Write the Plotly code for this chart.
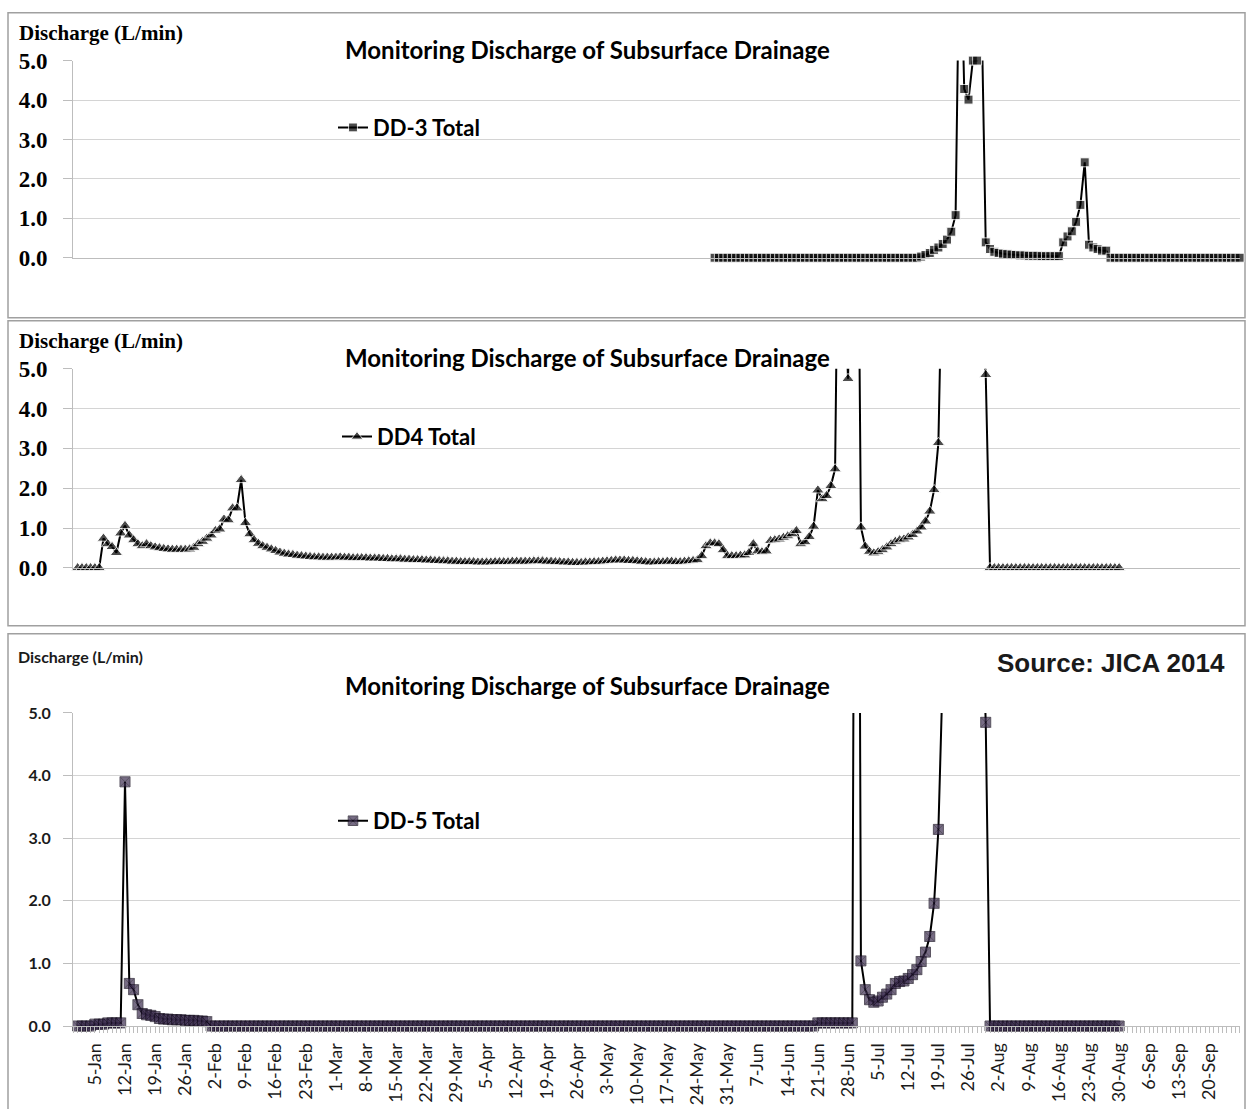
import pandas as pd
import plotly.graph_objects as go

# ---------------------------------------------------------------------------
# Daily subsurface-drainage discharge (L/min)
# ---------------------------------------------------------------------------
SERIES_START = "2012-01-01"      # first day of DD4 / DD-5 records
DD3_START = "2012-05-28"         # first day of DD-3 records

# DD4 Total: 1-Jan .. 30-Aug
dd4 = [
    0.00, 0.00, 0.00, 0.00, 0.00, 0.00,
    0.74, 0.60, 0.53, 0.38, 0.87, 1.06, 0.82, 0.70, 0.60, 0.55, 0.60,
    0.55, 0.52, 0.50, 0.48, 0.47, 0.46, 0.46, 0.46, 0.46, 0.47,
    0.51, 0.60, 0.66, 0.74, 0.82, 0.93, 0.97, 1.22, 1.20, 1.50, 1.50, 2.21,
    1.13, 0.85, 0.70, 0.61, 0.55, 0.51, 0.47, 0.43, 0.39, 0.36, 0.34, 0.33, 0.31, 0.30, 0.29,
    0.28, 0.27, 0.27, 0.26, 0.26, 0.26, 0.26, 0.27, 0.26, 0.26, 0.25, 0.25,
    0.25, 0.25, 0.24, 0.24, 0.24, 0.23, 0.23, 0.22, 0.22, 0.22,
    0.21, 0.21, 0.20, 0.20, 0.20, 0.19, 0.19, 0.18, 0.18, 0.17, 0.17, 0.16, 0.16, 0.15, 0.15,
    0.15, 0.15, 0.14, 0.14, 0.14, 0.14, 0.15, 0.15, 0.15, 0.15, 0.16, 0.16, 0.16, 0.16, 0.16,
    0.17, 0.17, 0.17, 0.16, 0.16, 0.15, 0.15,
    0.14, 0.14, 0.13, 0.13, 0.13, 0.14, 0.14, 0.15, 0.15, 0.16, 0.17, 0.18, 0.19, 0.19, 0.19,
    0.18, 0.18, 0.17, 0.16, 0.15, 0.14, 0.14, 0.15, 0.15, 0.16, 0.16,
    0.15, 0.15, 0.16, 0.17, 0.18, 0.20, 0.30, 0.55, 0.62, 0.62, 0.60, 0.45, 0.30, 0.30, 0.30,
    0.31, 0.32,
    0.38, 0.60, 0.42, 0.40, 0.42, 0.68, 0.70, 0.72, 0.76, 0.80, 0.85, 0.93, 0.60, 0.65, 0.78,
    1.04, 1.95, 1.73, 1.81, 2.06, 2.48,
    12.0, 8.0, 4.75, 9.0, 14.0, 1.02,
    0.54, 0.41, 0.37, 0.40, 0.45, 0.52, 0.60, 0.66, 0.70, 0.72, 0.77, 0.83, 0.92, 1.02, 1.17,
    1.42, 1.96, 3.14,
    8.5, 13.0, 16.0, 18.0, 19.0, 18.5, 17.0, 14.0, 10.0, 7.0,
    4.85,
    0.00, 0.00, 0.00, 0.00, 0.00, 0.00, 0.00, 0.00, 0.00, 0.00, 0.00, 0.00, 0.00, 0.00, 0.00, 0.00,
    0.00, 0.00, 0.00, 0.00, 0.00, 0.00, 0.00, 0.00, 0.00, 0.00, 0.00, 0.00, 0.00, 0.00, 0.00,
]

# DD-5 Total: 1-Jan .. 30-Aug
dd5 = [
    0.00, 0.00, 0.00, 0.00,
    0.03, 0.03, 0.03, 0.05, 0.05, 0.05, 0.05,
    3.90, 0.68, 0.58, 0.34, 0.20, 0.18, 0.17, 0.15, 0.12,
    0.11, 0.11, 0.10, 0.10, 0.10, 0.09, 0.09, 0.09, 0.08, 0.08, 0.07,
    0.00, 0.00, 0.00, 0.00, 0.00, 0.00, 0.00, 0.00, 0.00, 0.00, 0.00, 0.00, 0.00, 0.00, 0.00, 0.00, 0.00, 0.00, 0.00, 0.00,
    0.00, 0.00, 0.00, 0.00, 0.00, 0.00, 0.00, 0.00, 0.00, 0.00, 0.00, 0.00, 0.00, 0.00, 0.00, 0.00, 0.00, 0.00, 0.00, 0.00,
    0.00, 0.00, 0.00, 0.00, 0.00, 0.00, 0.00, 0.00, 0.00, 0.00, 0.00, 0.00, 0.00, 0.00, 0.00, 0.00, 0.00, 0.00, 0.00, 0.00,
    0.00, 0.00, 0.00, 0.00, 0.00, 0.00, 0.00, 0.00, 0.00, 0.00, 0.00, 0.00, 0.00, 0.00, 0.00, 0.00, 0.00, 0.00, 0.00, 0.00,
    0.00, 0.00, 0.00, 0.00, 0.00, 0.00, 0.00, 0.00, 0.00, 0.00, 0.00, 0.00, 0.00, 0.00, 0.00, 0.00, 0.00, 0.00, 0.00, 0.00,
    0.00, 0.00, 0.00, 0.00, 0.00, 0.00, 0.00, 0.00, 0.00, 0.00, 0.00, 0.00, 0.00, 0.00, 0.00, 0.00, 0.00, 0.00, 0.00, 0.00,
    0.00, 0.00, 0.00, 0.00, 0.00, 0.00, 0.00, 0.00, 0.00, 0.00, 0.00, 0.00, 0.00, 0.00, 0.00, 0.00, 0.00, 0.00, 0.00, 0.00,
    0.00,
    0.05, 0.05, 0.05, 0.05, 0.05, 0.05, 0.05, 0.05, 0.05,
    20.0,
    1.04, 0.58, 0.42, 0.38, 0.40, 0.46, 0.51, 0.58, 0.68, 0.71, 0.72, 0.76, 0.82, 0.90, 1.03,
    1.18, 1.43, 1.96, 3.14,
    8.0, 12.0, 15.0, 17.0, 18.0, 18.0, 16.0, 13.0, 10.0, 7.0,
    4.85,
    0.00, 0.00, 0.00, 0.00, 0.00, 0.00, 0.00, 0.00, 0.00, 0.00, 0.00, 0.00, 0.00, 0.00, 0.00, 0.00,
    0.00, 0.00, 0.00, 0.00, 0.00, 0.00, 0.00, 0.00, 0.00, 0.00, 0.00, 0.00, 0.00, 0.00, 0.00,
]

# DD-3 Total: 28-May .. 27-Sep
dd3 = [
    0.00, 0.00, 0.00, 0.00, 0.00, 0.00, 0.00, 0.00, 0.00, 0.00, 0.00, 0.00, 0.00, 0.00, 0.00, 0.00,
    0.00, 0.00, 0.00, 0.00, 0.00, 0.00, 0.00, 0.00, 0.00, 0.00, 0.00, 0.00, 0.00, 0.00, 0.00, 0.00,
    0.00, 0.00, 0.00, 0.00, 0.00, 0.00, 0.00, 0.00, 0.00, 0.00, 0.00, 0.00, 0.00, 0.00, 0.00, 0.00,
    0.03, 0.07, 0.12, 0.20, 0.26, 0.35, 0.46, 0.66, 1.08,
    9.0,
    4.28, 4.01, 5.00, 5.00, 6.50,
    0.39, 0.22, 0.15, 0.12, 0.10, 0.09, 0.08, 0.07, 0.06, 0.06, 0.05, 0.05, 0.05, 0.04, 0.04,
    0.04, 0.04, 0.04,
    0.39, 0.54, 0.67, 0.91, 1.34, 2.42, 0.33, 0.26, 0.22, 0.18, 0.18,
    0.00, 0.00, 0.00, 0.00, 0.00, 0.00, 0.00, 0.00, 0.00, 0.00, 0.00, 0.00, 0.00, 0.00, 0.00, 0.00,
    0.00, 0.00, 0.00, 0.00, 0.00, 0.00, 0.00, 0.00, 0.00, 0.00, 0.00, 0.00, 0.00, 0.00, 0.00,
]

Y_TICKS = [0, 1, 2, 3, 4, 5]
Y_MAX = 5.0
TITLE = "Monitoring Discharge of Subsurface Drainage"
Y_LABEL = "Discharge (L/min)"
SOURCE = "Source: JICA 2014"

dates_main = pd.date_range(SERIES_START, periods=len(dd4), freq="D")
dates_dd3 = pd.date_range(DD3_START, periods=len(dd3), freq="D")

# ---------------------------------------------------------------------------
W, H = 1247, 1109


def px(x):
    return x / W


def py(y):
    return 1 - y / H


def marker_sizes(values, size):
    # points beyond the axis maximum run off the top of the plot unmarked
    return [size if v <= Y_MAX else 0 for v in values]


start = pd.Timestamp(SERIES_START)
x_range = [start - pd.Timedelta(hours=26), start + pd.Timedelta(days=270, hours=2)]

fig = go.Figure()

fig.add_trace(go.Scatter(
    x=dates_dd3, y=dd3, name="DD-3 Total", mode="lines+markers",
    line=dict(color="black", width=2),
    marker=dict(symbol="square", size=marker_sizes(dd3, 9), color="black"),
    cliponaxis=False, xaxis="x", yaxis="y", legend="legend",
))
fig.add_trace(go.Scatter(
    x=dates_main, y=dd4, name="DD4 Total", mode="lines+markers",
    line=dict(color="black", width=2),
    marker=dict(symbol="triangle-up", size=marker_sizes(dd4, 11), color="black"),
    cliponaxis=False, xaxis="x2", yaxis="y2", legend="legend2",
))
fig.add_trace(go.Scatter(
    x=dates_main, y=dd5, name="DD-5 Total", mode="lines+markers",
    line=dict(color="black", width=2),
    marker=dict(symbol="square-x", size=marker_sizes(dd5, 10), color="#3e2f52",
                line=dict(color="#140c1e", width=1)),
    cliponaxis=False, xaxis="x3", yaxis="y3", legend="legend3",
))

GRID = "#d4d4d4"
AXIS = "#bdbdbd"
X_DOMAIN = [px(73), px(1240)]

serif_tick = dict(family="Liberation Serif", size=23, color="black", weight="bold")
sans_tick = dict(family="Lato", size=16, color="#1a1a1a", weight="bold")


def y_axis(domain, font, standoff, anchor):
    return dict(
        domain=domain, range=[0, Y_MAX], tickvals=Y_TICKS, tickformat=".1f",
        showgrid=True, gridcolor=GRID, gridwidth=1, zeroline=False,
        showline=True, linecolor=AXIS, linewidth=1,
        ticks="outside", ticklen=9, tickcolor=AXIS, tickwidth=1,
        tickfont=font, ticklabelstandoff=standoff, anchor=anchor, fixedrange=True,
    )


def x_axis_plain(anchor):
    return dict(
        domain=X_DOMAIN, type="date", range=x_range, anchor=anchor,
        showticklabels=False, ticks="", showgrid=False, zeroline=False,
        showline=True, linecolor=AXIS, linewidth=1,
    )


# vertical placement of the three panels (pixels from the top of the page)
PANEL_FRAMES = [(0.8, 312.8), (315.9, 628.0), (636.2, 1130)]
PLOT_SPANS = [(49.7, 251.4), (365.0, 568.7), (717.1, 1037.4)]   # (5.0 line, 0.0 line)
TITLE_Y = [38.5, 353.7, 689.4]
YLABEL_Y = [21.1, 336.3, 659.8]
LEGEND_Y = [118.3, 434.6, 827.6]
SOURCE_Y = 665.9

fig.update_layout(
    width=W, height=H,
    margin=dict(l=0, r=0, t=0, b=0),
    paper_bgcolor="white", plot_bgcolor="white",
    xaxis=x_axis_plain("y"),
    xaxis2=x_axis_plain("y2"),
    xaxis3=dict(
        domain=X_DOMAIN, type="date", range=x_range, anchor="y3",
        tick0="2012-01-05", dtick=7 * 86400000, tickformat="%-d-%b", tickangle=-90,
        tickfont=dict(family="Lato", size=18, color="#1a1a1a"),
        ticks="outside", ticklen=6, tickcolor=AXIS, ticklabelstandoff=3,
        minor=dict(dtick=86400000, tick0="2012-01-01", ticks="outside",
                   ticklen=6, tickcolor=AXIS, showgrid=False),
        showgrid=False, zeroline=False, showline=True, linecolor=AXIS, linewidth=1,
    ),
    yaxis=y_axis([py(PLOT_SPANS[0][1]), py(PLOT_SPANS[0][0])], serif_tick, 11, "x"),
    yaxis2=y_axis([py(PLOT_SPANS[1][1]), py(PLOT_SPANS[1][0])], serif_tick, 11, "x2"),
    yaxis3=y_axis([py(PLOT_SPANS[2][1]), py(PLOT_SPANS[2][0])], sans_tick, 9, "x3"),
    showlegend=True,
)

legend_font = dict(family="Lato", size=22, color="black", weight="bold")
for key, lx, ly in zip(("legend", "legend2", "legend3"), (333, 337, 333), LEGEND_Y):
    fig.update_layout({key: dict(
        x=px(lx), y=py(ly), xanchor="left", yanchor="middle",
        bgcolor="rgba(0,0,0,0)", borderwidth=0, font=legend_font,
        itemwidth=30, tracegroupgap=0,
    )})

# panel frames
for top, bottom in PANEL_FRAMES:
    fig.add_shape(type="rect", xref="paper", yref="paper",
                  x0=px(8), x1=px(1245), y0=py(bottom), y1=py(top),
                  line=dict(color="#a0a0a0", width=1.5), fillcolor="rgba(0,0,0,0)",
                  layer="below")

annotations = []
for ty in TITLE_Y:
    annotations.append(dict(
        text=TITLE, x=px(587), y=py(ty), xref="paper", yref="paper",
        xanchor="center", yanchor="middle", showarrow=False,
        font=dict(family="Lato", size=24, color="black", weight="bold"),
    ))
for ly in YLABEL_Y[:2]:
    annotations.append(dict(
        text=Y_LABEL, x=px(17), y=py(ly), xref="paper", yref="paper",
        xanchor="left", yanchor="middle", showarrow=False,
        font=dict(family="Liberation Serif", size=21, color="black", weight="bold"),
    ))
annotations.append(dict(
    text=Y_LABEL, x=px(16), y=py(YLABEL_Y[2]), xref="paper", yref="paper",
    xanchor="left", yanchor="middle", showarrow=False,
    font=dict(family="Lato", size=16, color="#1a1a1a", weight="bold"),
))
annotations.append(dict(
    text=SOURCE, x=px(1227), y=py(SOURCE_Y), xref="paper", yref="paper",
    xanchor="right", yanchor="middle", showarrow=False,
    font=dict(family="Liberation Sans", size=26, color="#1a1a1a", weight="bold"),
))
fig.update_layout(annotations=annotations)

fig.write_html("out.html")
